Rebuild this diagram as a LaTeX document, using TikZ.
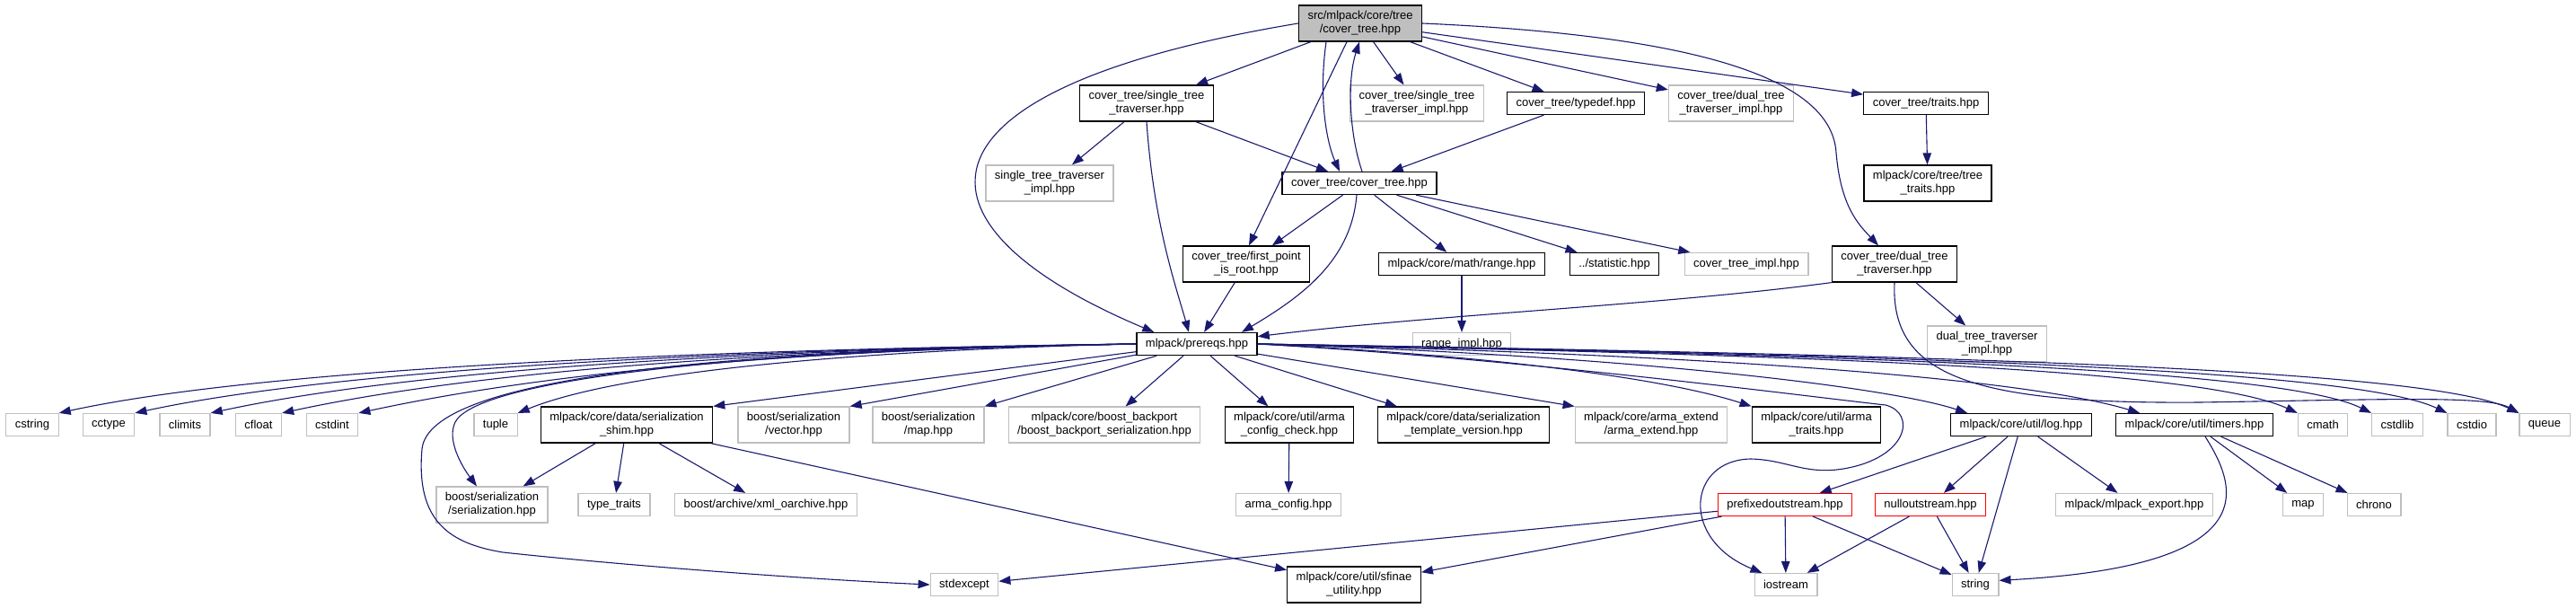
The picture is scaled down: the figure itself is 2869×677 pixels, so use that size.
\documentclass[tikz,border=0pt]{standalone}
\usepackage{fontspec}
\setmainfont{Liberation Sans}
\usetikzlibrary{arrows.meta}
\definecolor{edgeblue}{RGB}{25,25,112}
\definecolor{boxgray}{RGB}{191,191,191}
\tikzset{
  filebox/.style={draw=black, line width=1.3pt, fill=white, align=center,
    font=\fontsize{13}{15}\selectfont, inner xsep=10pt, inner ysep=6.4pt,
    minimum height=25pt},
  extbox/.style={filebox, draw=boxgray, line width=1.2pt},
  redbox/.style={filebox, draw=red, line width=1.2pt},
  rootbox/.style={filebox, fill=boxgray},
  inc/.style={draw=edgeblue, line width=1.1pt, -{Triangle[length=13pt,width=9.5pt]}},
}
\begin{document}
\begin{tikzpicture}[x=1pt, y=-1pt]
    \useasboundingbox (0,0) rectangle (2869,677);

    %% files, row by row
    \node[rootbox] (root) at (1515,26) {src/mlpack/core/tree\\/cover\_tree.hpp};

    \node[filebox] (stt) at (1277,115) {cover\_tree/single\_tree\\\_traverser.hpp};
    \node[extbox] (sttimplA) at (1578,115) {cover\_tree/single\_tree\\\_traverser\_impl.hpp};
    \node[filebox] (typedef) at (1755,115) {cover\_tree/typedef.hpp};
    \node[extbox] (dttimplA) at (1928,115) {cover\_tree/dual\_tree\\\_traverser\_impl.hpp};
    \node[filebox] (traits) at (2145,115) {cover\_tree/traits.hpp};

    \node[extbox] (sttimpl) at (1169,204) {single\_tree\_traverser\\\_impl.hpp};
    \node[filebox] (covertree) at (1514,204) {cover\_tree/cover\_tree.hpp};
    \node[filebox] (treetraits) at (2147,204) {mlpack/core/tree/tree\\\_traits.hpp};

    \node[filebox] (firstpt) at (1388,294) {cover\_tree/first\_point\\\_is\_root.hpp};
    \node[filebox] (range) at (1628,294) {mlpack/core/math/range.hpp};
    \node[filebox] (stat) at (1798,294) {../statistic.hpp};
    \node[extbox] (ctimpl) at (1945,294) {cover\_tree\_impl.hpp};
    \node[filebox] (dtt) at (2110,294) {cover\_tree/dual\_tree\\\_traverser.hpp};

    \node[filebox] (prereqs) at (1333,383) {mlpack/prereqs.hpp};
    \node[extbox] (rangeimpl) at (1628,383) {range\_impl.hpp};
    \node[extbox] (dttimpl) at (2213,383) {dual\_tree\_traverser\\\_impl.hpp};

    \foreach \nm/\x in {cstring/36, cctype/121, climits/206, cfloat/288, cstdint/370,
        tuple/552, cmath/2587, cstdlib/2670, cstdio/2753, queue/2834}
      \node[extbox] (\nm) at (\x,473) {\nm};
    \node[filebox] (shim) at (698,473) {mlpack/core/data/serialization\\\_shim.hpp};
    \node[extbox] (vector) at (884,473) {boost/serialization\\/vector.hpp};
    \node[extbox] (bmap) at (1034,473) {boost/serialization\\/map.hpp};
    \node[extbox] (backport) at (1230,473) {mlpack/core/boost\_backport\\/boost\_backport\_serialization.hpp};
    \node[filebox] (armacheck) at (1436,473) {mlpack/core/util/arma\\\_config\_check.hpp};
    \node[filebox] (tplver) at (1630,473) {mlpack/core/data/serialization\\\_template\_version.hpp};
    \node[extbox] (armaext) at (1839,473) {mlpack/core/arma\_extend\\/arma\_extend.hpp};
    \node[filebox] (armatraits) at (2023,473) {mlpack/core/util/arma\\\_traits.hpp};
    \node[filebox] (log) at (2251,473) {mlpack/core/util/log.hpp};
    \node[filebox] (timers) at (2444,473) {mlpack/core/util/timers.hpp};

    \node[extbox] (bser) at (548,562) {boost/serialization\\/serialization.hpp};
    \node[extbox] (typetraits) at (684,562) {type\_traits};
    \node[extbox] (xmlarch) at (853,562) {boost/archive/xml\_oarchive.hpp};
    \node[extbox] (armacfg) at (1435,562) {arma\_config.hpp};
    \node[redbox] (prefixed) at (1988,562) {prefixedoutstream.hpp};
    \node[redbox] (nullout) at (2150,562) {nulloutstream.hpp};
    \node[extbox] (mlexport) at (2377,562) {mlpack/mlpack\_export.hpp};
    \node[extbox] (stdmap) at (2565,562) {map};
    \node[extbox] (chrono) at (2644,562) {chrono};

    \node[extbox] (stdexcept) at (1074,651) {stdexcept};
    \node[filebox] (sfinae) at (1508,651) {mlpack/core/util/sfinae\\\_utility.hpp};
    \node[extbox] (iostream) at (1989,651) {iostream};
    \node[extbox] (string) at (2200,651) {string};

    %% includes of the root file
    \draw[inc] (root) -- (stt);
    \draw[inc] (root.west) .. controls (1000,100) and (1000,250) .. ([xshift=20pt]prereqs.north west);
    \draw[inc] ([xshift=-15pt]root.south) -- ([xshift=3pt]firstpt.north);
    \draw[inc] ([xshift=-38pt]root.south) .. controls (1468,110) and (1478,160) .. ([xshift=-22pt]covertree.north);
    \draw[inc] (root) -- (sttimplA);
    \draw[inc] (root) -- (typedef);
    \draw[inc] (root) -- (dttimplA);
    \draw[inc] (root) -- (traits);
    \draw[inc] (root.east) .. controls (1900,40) and (2040,90) .. (2045,170)
      .. controls (2050,230) and (2070,250) .. ([xshift=-18pt]dtt.north);
    \draw[inc] ([xshift=3pt]covertree.north) .. controls (1503,150) and (1500,90) .. ([xshift=-1pt]root.south);

    %% tree level
    \draw[inc] (stt) -- (sttimpl);
    \draw[inc] (stt) -- (covertree);
    \draw[inc] (stt.south) .. controls (1285,250) and (1310,320) .. ([xshift=-9pt]prereqs.north);
    \draw[inc] (typedef) -- (covertree);
    \draw[inc] (covertree) -- (firstpt);
    \draw[inc] ([xshift=-3pt]covertree.south) .. controls (1505,290) and (1450,330) .. ([xshift=50pt]prereqs.north);
    \draw[inc] (covertree) -- (range);
    \draw[inc] (covertree) -- (stat);
    \draw[inc] (covertree) -- (ctimpl);
    \draw[inc] (firstpt) -- (prereqs);
    \draw[inc] (range) -- (rangeimpl);
    \draw[inc] (traits) -- (treetraits);
    \draw[inc] (dtt) -- (dttimpl);
    \draw[inc] (dtt.south west) .. controls (1850,340) and (1600,350) .. (prereqs.7);
    \draw[inc] (dtt.south) .. controls (2105,420) and (2200,450) .. (2450,448)
      .. controls (2650,445) and (2770,440) .. (queue.north west);

    %% prereqs fan-out, left
    \foreach \tgt/\c/\d in {cstring/785/294, cctype/820/382, climits/853/466,
        cfloat/885/545, cstdint/920/631, tuple/990/700}
      \draw[inc] (prereqs.west) .. controls (\c,389) and (\d,410) .. (\tgt.north east);
    \draw[inc] (prereqs.west) .. controls (800,390) and (530,425) .. (507,470)
      .. controls (497,490) and (515,520) .. ([xshift=-17pt]bser.north);
    \draw[inc] (prereqs.west) .. controls (800,390) and (478,420) .. (470,500)
      .. controls (463,580) and (500,605) .. (560,615)
      .. controls (700,630) and (900,645) .. (stdexcept.west);
    \draw[inc] (prereqs) -- (shim.north east);
    \draw[inc] (prereqs) -- (vector.north east);
    \draw[inc] (prereqs) -- (bmap.north east);
    \draw[inc] (prereqs) -- (backport);
    \draw[inc] (prereqs) -- (armacheck);
    \draw[inc] (prereqs) -- ([xshift=22pt]tplver.north west);
    \draw[inc] (prereqs) -- (armaext.north west);

    %% prereqs fan-out, right
    \draw[inc] (prereqs.east) .. controls (1650,395) and (1850,420) .. (armatraits.north west);
    \draw[inc] (prereqs.east) .. controls (1800,395) and (2100,430) .. ([xshift=19pt]log.north west);
    \draw[inc] (prereqs.east) .. controls (1900,395) and (2250,420) .. ([xshift=27pt]timers.north west);
    \foreach \tgt/\c/\d in {cmath/2000/2450, cstdlib/2050/2540, cstdio/2100/2620, queue/2150/2700}
      \draw[inc] (prereqs.east) .. controls (\c,395) and (\d,410) .. (\tgt.north west);
    \draw[inc] (prereqs.east) .. controls (1700,400) and (2000,440) .. (2100,451)
      .. controls (2135,460) and (2125,510) .. (2053,522)
      .. controls (2010,529) and (1990,512) .. (1950,511)
      .. controls (1880,512) and (1870,600) .. ([xshift=9pt]iostream.north west);

    %% lower levels
    \draw[inc] (shim) -- (bser);
    \draw[inc] (shim) -- (typetraits);
    \draw[inc] (shim) -- (xmlarch);
    \draw[inc] (shim) -- (sfinae);
    \draw[inc] (armacheck) -- (armacfg);
    \draw[inc] (log) -- (prefixed);
    \draw[inc] (log) -- (nullout);
    \draw[inc] (log) -- (string);
    \draw[inc] (log) -- (mlexport);
    \draw[inc] ([xshift=12pt]timers.south) .. controls (2490,540) and (2530,630) .. (string.10);
    \draw[inc] (timers) -- (stdmap);
    \draw[inc] (timers) -- (chrono);
    \draw[inc] (prefixed) -- (iostream);
    \draw[inc] (prefixed) -- (string);
    \draw[inc] (prefixed) -- (stdexcept);
    \draw[inc] (prefixed) -- (sfinae);
    \draw[inc] (nullout) -- (iostream);
    \draw[inc] (nullout) -- (string);
\end{tikzpicture}
\end{document}
